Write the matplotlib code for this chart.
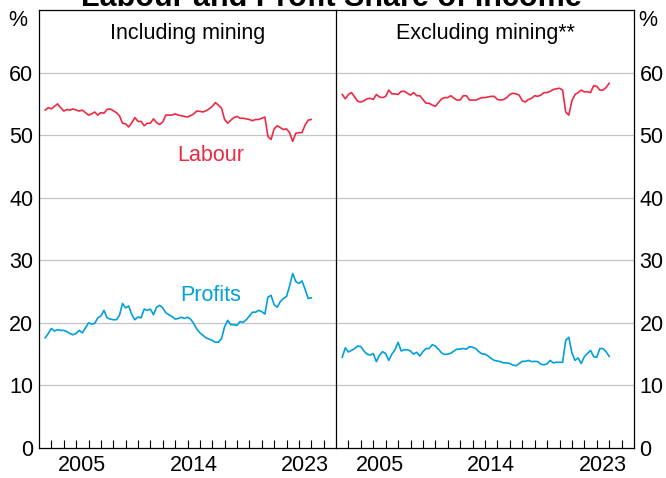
import matplotlib.pyplot as plt
import numpy as np

plt.rcParams['font.family'] = ['Liberation Sans', 'DejaVu Sans']

# quarterly, from mid-2002 (shares of total factor income, %)
start_year = 2002.5
labour_incl = [54.0, 54.4, 54.2, 54.6, 55.0, 54.4, 53.85, 54.1, 54.0, 54.2,
               54.0, 53.85, 54.0, 53.6, 53.2, 53.4, 53.7, 53.2, 53.6, 53.5,
               54.1, 54.2, 53.9, 53.6, 53.1, 51.9, 51.8, 51.3, 52.0, 52.8,
               52.2, 52.2, 51.5, 51.9, 51.9, 52.6, 52.0, 51.7, 52.1, 53.2,
               53.2, 53.2, 53.4, 53.2, 53.1, 53.0, 52.9, 53.1, 53.4, 53.85,
               53.8, 53.7, 53.9, 54.2, 54.6, 55.2, 54.8, 54.3, 52.5, 51.9,
               52.4, 52.8, 53.0, 52.7, 52.7, 52.6, 52.5, 52.3, 52.5, 52.5,
               52.7, 52.9, 49.8, 49.3, 51.0, 51.5, 51.2, 50.9, 51.0, 50.4,
               49.0, 50.3, 50.4, 50.4, 51.6, 52.4, 52.5]
profits_incl = [17.6, 18.3, 19.1, 18.7, 18.9, 18.8, 18.8, 18.6, 18.3, 18.1,
                18.3, 18.8, 18.4, 19.2, 20.0, 19.8, 19.9, 20.8, 21.1, 22.0,
                20.8, 20.6, 20.5, 20.5, 21.2, 23.1, 22.4, 22.7, 21.3, 20.5,
                20.95, 20.8, 22.2, 22.0, 22.2, 21.3, 22.5, 22.8, 22.4, 21.6,
                21.3, 21.0, 20.6, 20.7, 20.9, 20.7, 20.9, 20.6, 19.9, 19.0,
                18.4, 18.0, 17.6, 17.4, 17.2, 16.9, 16.9, 17.5, 19.4, 20.4,
                19.7, 19.7, 19.6, 20.2, 20.1, 20.5, 21.1, 21.7, 21.7, 22.0,
                21.8, 21.4, 24.1, 24.4, 22.9, 22.5, 23.4, 23.9, 24.2, 25.9,
                27.9, 26.6, 26.3, 26.7, 25.4, 23.9, 24.0]
labour_excl = [56.5, 55.8, 56.5, 56.8, 56.1, 55.4, 55.3, 55.5, 55.8, 55.9,
               55.7, 56.5, 56.1, 56.0, 56.2, 57.2, 56.6, 56.6, 56.5, 57.0,
               57.0, 56.7, 56.4, 56.8, 56.3, 56.3, 55.7, 55.1, 55.1, 54.8,
               54.6, 55.2, 55.8, 56.0, 56.0, 56.3, 55.9, 55.6, 55.6, 56.3,
               56.3, 55.6, 55.6, 55.6, 55.8, 56.0, 56.0, 56.1, 56.2, 56.2,
               55.7, 55.6, 55.7, 56.0, 56.5, 56.7, 56.6, 56.4, 55.5, 55.3,
               55.7, 55.9, 56.3, 56.2, 56.4, 56.8, 56.8, 57.0, 57.3, 57.4,
               57.5, 57.2, 53.7, 53.2, 55.5, 56.5, 56.8, 57.2, 56.9, 56.95,
               56.8, 57.9, 57.8, 57.2, 57.2, 57.6, 58.3]
profits_excl = [14.5, 16.0, 15.35, 15.6, 15.9, 16.3, 16.2, 15.5, 15.0, 14.85,
                15.1, 13.8, 14.8, 15.4, 15.1, 14.0, 15.0, 15.7, 16.9, 15.5,
                15.7, 15.7, 15.5, 15.0, 15.3, 14.7, 15.4, 15.9, 15.9, 16.5,
                16.3, 15.8, 15.2, 14.95, 15.0, 15.15, 15.5, 15.8, 15.8, 15.9,
                15.8, 16.2, 16.1, 15.9, 15.4, 15.05, 15.0, 14.7, 14.3, 14.0,
                13.9, 13.8, 13.6, 13.6, 13.5, 13.25, 13.15, 13.5, 13.85, 13.85,
                14.0, 13.8, 13.85, 13.8, 13.4, 13.3, 13.45, 14.0, 13.6, 13.7,
                13.7, 13.7, 17.2, 17.7, 15.2, 14.0, 14.4, 13.5, 14.6, 15.1,
                15.6, 14.6, 14.5, 15.9, 15.9, 15.4, 14.65]

panel_titles = ['Including mining', 'Excluding mining**']
year_labels = [2005, 2014, 2023]
y_ticks = [0, 10, 20, 30, 40, 50, 60]

red = '#ed2a43'
blue = '#00a0dc'
fs = 15.5

fig = plt.figure(figsize=(6.66, 4.78), dpi=100)
ax1 = fig.add_axes([39/666, 30/478, 297/666, 438/478])
ax2 = fig.add_axes([336/666, 30/478, 298/666, 438/478])

dates = start_year + 0.25*np.arange(len(labour_incl))

panels = [(ax1, labour_incl, profits_incl), (ax2, labour_excl, profits_excl)]
for i, (ax, lab, prof) in enumerate(panels):
    ax.plot(dates, lab, color=red, lw=1.2)
    ax.plot(dates, prof, color=blue, lw=1.2)
    ax.set_xlim(2002, 2026)
    ax.set_ylim(0, 70)
    for y in y_ticks[1:]:
        ax.axhline(y, color='#c4c4c4', lw=0.9, zorder=0)
    ax.set_yticks(y_ticks)
    ax.tick_params(axis='y', length=0, labelsize=fs, pad=4)
    ax.set_xticks(np.arange(2003, 2026))
    ax.set_xticklabels([])
    ax.tick_params(axis='x', which='major', direction='in', length=6, width=0.8)
    ax.set_xticks([y + 0.5 for y in year_labels], minor=True)
    ax.set_xticklabels([str(y) for y in year_labels], minor=True)
    ax.tick_params(axis='x', which='minor', length=0, labelsize=fs, pad=5)
    for s in ax.spines.values():
        s.set_linewidth(0.9)
    ax.text(0.5, 0.97, panel_titles[i], transform=ax.transAxes,
            ha='center', va='top', fontsize=fs)

ax1.spines['right'].set_visible(False)
ax2.yaxis.tick_right()

ax1.text(2015.9, 46.8, 'Labour', color=red, fontsize=fs, ha='center', va='center')
ax1.text(2015.9, 24.3, 'Profits', color=blue, fontsize=fs, ha='center', va='center')

fig.text(18/666, 1 - 20/478, '%', fontsize=fs, ha='center', va='center')
fig.text(648/666, 1 - 20/478, '%', fontsize=fs, ha='center', va='center')
fig.text(0.497, 1 - 6/478, 'Labour and Profit Share of Income', fontsize=22,
         fontweight='bold', ha='center', va='baseline')

fig.savefig('out.png', dpi=100)
